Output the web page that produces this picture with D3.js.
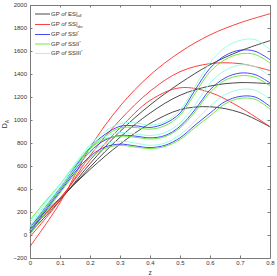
<!DOCTYPE html>
<html>
<head>
<meta charset="utf-8">
<script src="https://cdn.jsdelivr.net/npm/d3@7"></script>
<style>
  body { margin: 0; background: #fff; }
  svg { display: block; font-family: "Liberation Sans", Arial, sans-serif; }
</style>
</head>
<body>
<svg id="chart"></svg>
<script>
// redshift grids
var zCoarse = [0, 0.1, 0.2, 0.3, 0.4, 0.5, 0.6, 0.7, 0.8];
var zFine = [0, 0.05, 0.1, 0.15, 0.2, 0.25, 0.3, 0.35, 0.4, 0.45, 0.5, 0.55, 0.6, 0.65, 0.7, 0.75, 0.8];

// GP of ES|all (upper, mid, lower) on zCoarse
var esAll = [
    [20, 300, 620, 900, 1130, 1320, 1480, 1600, 1690],
    [50, 310, 590, 850, 1060, 1215, 1295, 1325, 1315],
    [80, 320, 570, 790, 970, 1090, 1115, 1065, 940]
];
// GP of SS|drc on zCoarse
var ssDrc = [
    [-100, 280, 760, 1120, 1390, 1590, 1740, 1845, 1924],
    [-15, 300, 690, 1000, 1250, 1420, 1490, 1490, 1430],
    [45, 320, 650, 930, 1170, 1280, 1240, 1110, 942]
];
// GP of SSI*, SSII*, SSIII* on zFine
var ssI = [
    [60, 240, 410, 590, 760, 875, 945, 950, 935, 970, 1060, 1260, 1450, 1560, 1607, 1598, 1524],
    [40, 220, 390, 565, 725, 825, 865, 860, 845, 865, 945, 1090, 1263, 1365, 1408, 1395, 1322],
    [20, 205, 375, 545, 685, 765, 790, 775, 760, 780, 845, 955, 1060, 1160, 1205, 1200, 1118]
];
var ssII = [
    [40, 225, 395, 575, 750, 860, 930, 935, 920, 950, 1040, 1230, 1420, 1525, 1575, 1570, 1496],
    [130, 290, 440, 605, 750, 835, 860, 850, 835, 855, 930, 1070, 1240, 1345, 1385, 1372, 1296],
    [0, 190, 365, 530, 670, 752, 780, 765, 752, 770, 830, 935, 1035, 1140, 1188, 1180, 1095]
];
var ssIII = [
    [80, 265, 440, 620, 785, 900, 970, 975, 955, 985, 1085, 1290, 1500, 1630, 1692, 1700, 1611],
    [110, 280, 440, 610, 765, 855, 890, 880, 865, 890, 975, 1130, 1320, 1430, 1478, 1465, 1379],
    [70, 245, 415, 580, 715, 792, 815, 800, 780, 800, 870, 990, 1120, 1220, 1265, 1260, 1180]
];

// x and y tick values
var xTicks = [0, 0.1, 0.2, 0.3, 0.4, 0.5, 0.6, 0.7, 0.8];
var yTicks = [-200, 0, 200, 400, 600, 800, 1000, 1200, 1400, 1600, 1800, 2000];

var W = 277, H = 276;
var margin = {top: 5, right: 7, bottom: 18, left: 30},
    width = W - margin.left - margin.right,
    height = H - margin.top - margin.bottom;

var svg = d3.select("#chart")
    .attr("width", W)
    .attr("height", H);

var g = svg.append("g")
    .attr("transform", "translate(" + margin.left + "," + margin.top + ")");

var x = d3.scaleLinear().domain([0, 0.8]).range([0, width]);
var y = d3.scaleLinear().domain([-200, 2000]).range([height, 0]);

// 坐标轴 (ticks inside, box on all sides)
var axisColor = "#7a7a7a";
function styleAxis(sel) {
    sel.select(".domain").attr("stroke", axisColor);
    sel.selectAll(".tick line").attr("stroke", axisColor);
    sel.selectAll(".tick text").attr("fill", "#333").style("font-size", "6px");
}

g.append("g")
    .attr("transform", "translate(0," + height + ")")
    .call(d3.axisBottom(x).tickValues(xTicks).tickSizeInner(-2.5).tickSizeOuter(0).tickPadding(3)
        .tickFormat(function (d) { return d === 0 ? "0" : d3.format(".1f")(d); }))
    .call(styleAxis);
g.append("g")
    .call(d3.axisTop(x).tickValues(xTicks).tickSizeInner(-2.5).tickSizeOuter(0).tickFormat(""))
    .call(styleAxis);
g.append("g")
    .call(d3.axisLeft(y).tickValues(yTicks).tickSizeInner(-2.5).tickSizeOuter(0).tickPadding(3)
        .tickFormat(d3.format("d")))
    .call(styleAxis);
g.append("g")
    .attr("transform", "translate(" + width + ",0)")
    .call(d3.axisRight(y).tickValues(yTicks).tickSizeInner(-2.5).tickSizeOuter(0).tickFormat(""))
    .call(styleAxis);

// 曲线
function drawSet(zs, set, color) {
    var line = d3.line()
        .x(function (d, i) { return x(zs[i]); })
        .y(function (d) { return y(d); })
        .curve(d3.curveCatmullRom.alpha(0.5));
    set.forEach(function (vals) {
        g.append("path")
            .attr("d", line(vals))
            .attr("fill", "none")
            .attr("stroke", color)
            .attr("stroke-width", 0.9);
    });
}

var colors = ["#333333", "#ff2a2a", "#3333ff", "#5ee830", "#8affe0"];
drawSet(zCoarse, esAll, colors[0]);
drawSet(zCoarse, ssDrc, colors[1]);
drawSet(zFine, ssI, colors[2]);
drawSet(zFine, ssII, colors[3]);
drawSet(zFine, ssIII, colors[4]);

// 图例
var legend = [
    {base: "ES|", sub: "all"},
    {base: "SS|", sub: "drc"},
    {base: "SSI", sup: "*"},
    {base: "SSII", sup: "*"},
    {base: "SSIII", sup: "*"}
];
var legendY = [14, 24.5, 34.5, 44, 53.5];

legend.forEach(function (d, i) {
    svg.append("line")
        .attr("x1", 35).attr("x2", 50)
        .attr("y1", legendY[i]).attr("y2", legendY[i])
        .attr("stroke", colors[i])
        .attr("stroke-width", 0.9);
    var t = svg.append("text")
        .attr("x", 51)
        .attr("y", legendY[i] + 1.5)
        .attr("fill", "#333")
        .style("font-size", "6px");
    t.append("tspan").text("GP ");
    t.append("tspan").style("font-style", "italic").text("of");
    t.append("tspan").text(" " + d.base);
    if (d.sub) {
        t.append("tspan").attr("dy", 1.8).style("font-size", "4px").text(d.sub);
    } else {
        t.append("tspan").attr("dy", -2).style("font-size", "4px").text(d.sup);
    }
});

// 坐标轴标题
svg.append("text")
    .attr("x", margin.left + x(0.4))
    .attr("y", 274.5)
    .attr("text-anchor", "middle")
    .attr("fill", "#333")
    .style("font-size", "6.5px")
    .text("z");

var yl = svg.append("text")
    .attr("transform", "translate(7,124) rotate(-90)")
    .attr("text-anchor", "middle")
    .attr("fill", "#333")
    .style("font-size", "7px");
yl.append("tspan").text("D");
yl.append("tspan").attr("dy", 1.5).style("font-size", "5px").text("A");
</script>
</body>
</html>
